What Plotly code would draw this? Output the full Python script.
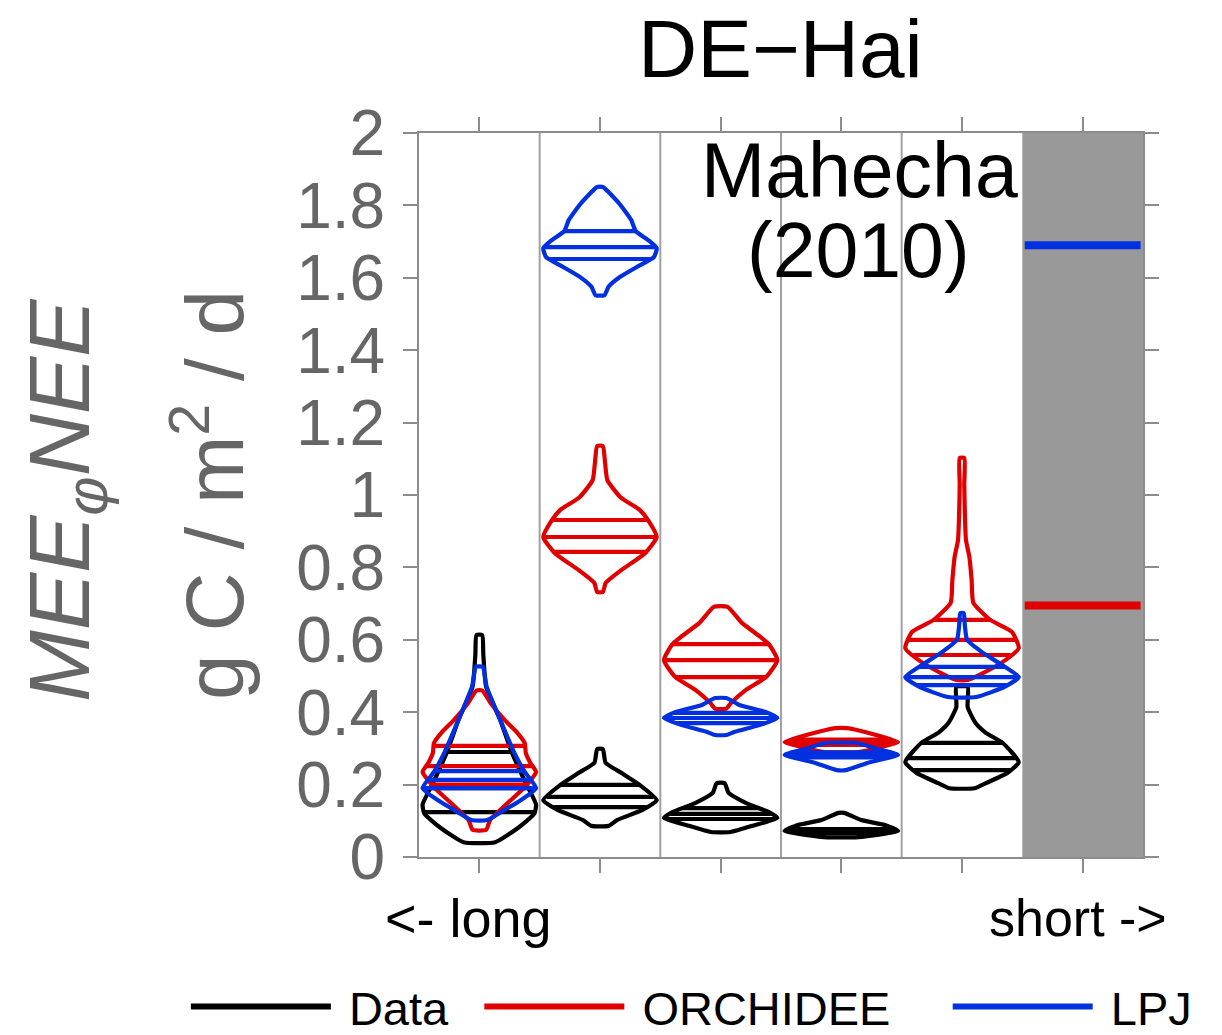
import numpy as np
import plotly.graph_objects as go

# ---------------- data ----------------
positions = [1, 2, 3, 4, 5]          # time-scale bins, long -> short
short_position = 6                   # shaded bin

# Data (observations): density profiles (value, relative density) per bin
data_prof_y = [
    [0.041, 0.08, 0.12, 0.145, 0.21, 0.29, 0.378, 0.47, 0.56, 0.613],
    [0.086, 0.102, 0.13, 0.157, 0.199, 0.232, 0.26, 0.298],
    [0.069, 0.088, 0.108, 0.124, 0.149, 0.177, 0.204],
    [0.055, 0.072, 0.088, 0.102, 0.122],
    [0.19, 0.204, 0.232, 0.262, 0.315, 0.343, 0.37, 0.414, 0.47],
]
data_prof_d = [
    [0.28, 0.68, 0.97, 1.0, 0.8, 0.57, 0.37, 0.12, 0.07, 0.05],
    [0.15, 0.3, 0.75, 1.0, 0.7, 0.38, 0.1, 0.05],
    [0.17, 0.6, 1.0, 0.85, 0.45, 0.14, 0.07],
    [0.3, 1.0, 0.78, 0.35, 0.05],
    [0.22, 0.42, 0.8, 1.0, 0.72, 0.42, 0.24, 0.1, 0.1],
]
data_quart = [
    [0.124, 0.19, 0.29],
    [0.138, 0.166, 0.199],
    [0.105, 0.119, 0.135],
    [0.066, 0.071, 0.077],
    [0.24, 0.273, 0.315],
]

# ORCHIDEE
orc_prof_y = [
    [0.075, 0.102, 0.149, 0.193, 0.235, 0.26, 0.287, 0.315, 0.343, 0.378, 0.425, 0.46],
    [0.732, 0.757, 0.793, 0.84, 0.884, 0.93, 0.959, 0.994, 1.041, 1.088, 1.135],
    [0.41, 0.425, 0.461, 0.497, 0.544, 0.588, 0.608, 0.646, 0.691],
    [0.29, 0.304, 0.318, 0.342, 0.356],
    [0.489, 0.508, 0.539, 0.577, 0.622, 0.655, 0.702, 0.765, 0.829, 0.876, 0.95, 1.03, 1.102],
]
orc_prof_d = [
    [0.12, 0.19, 0.5, 0.8, 1.0, 0.9, 0.82, 0.8, 0.67, 0.45, 0.2, 0.05],
    [0.05, 0.1, 0.38, 0.8, 1.0, 0.85, 0.7, 0.36, 0.13, 0.09, 0.05],
    [0.1, 0.18, 0.44, 0.8, 1.0, 0.85, 0.7, 0.38, 0.12],
    [0.3, 0.7, 1.0, 0.5, 0.1],
    [0.1, 0.37, 0.72, 1.0, 0.88, 0.5, 0.2, 0.17, 0.13, 0.07, 0.05, 0.04, 0.04],
]
orc_quart = [
    [0.2, 0.251, 0.307],
    [0.843, 0.884, 0.931],
    [0.497, 0.544, 0.588],
    [0.31, 0.317, 0.324],
    [0.558, 0.6, 0.655],
]

# LPJ
lpj_prof_y = [
    [0.102, 0.124, 0.157, 0.19, 0.235, 0.287, 0.378, 0.47, 0.525],
    [1.552, 1.575, 1.602, 1.63, 1.657, 1.682, 1.704, 1.729, 1.76, 1.807, 1.851],
    [0.337, 0.346, 0.365, 0.384, 0.401, 0.42, 0.439],
    [0.24, 0.262, 0.282, 0.3, 0.315],
    [0.442, 0.47, 0.497, 0.536, 0.564, 0.6, 0.64, 0.674],
]
lpj_prof_d = [
    [0.14, 0.38, 0.73, 1.0, 0.8, 0.62, 0.37, 0.13, 0.06],
    [0.08, 0.15, 0.35, 0.65, 0.95, 1.0, 0.85, 0.63, 0.55, 0.33, 0.05],
    [0.1, 0.25, 0.7, 1.0, 0.78, 0.33, 0.1],
    [0.08, 0.5, 1.0, 0.6, 0.28],
    [0.25, 0.75, 1.0, 0.65, 0.37, 0.09, 0.05, 0.03],
]
lpj_quart = [
    [0.19, 0.213, 0.237],
    [1.652, 1.685, 1.729],
    [0.37, 0.384, 0.398],
    [0.275, 0.282, 0.289],
    [0.475, 0.497, 0.525],
]

# values for the shaded "short" bin
orc_short = 0.695
lpj_short = 1.69

series_names = ["Data", "ORCHIDEE", "LPJ"]
y_ticks = [0, 0.2, 0.4, 0.6, 0.8, 1.0, 1.2, 1.4, 1.6, 1.8, 2.0]
y_ticktext = ["0", "0.2", "0.4", "0.6", "0.8", "1", "1.2", "1.4", "1.6", "1.8", "2"]

# ---------------- styling ----------------
BLACK = "#000000"
RED = "#e00000"
BLUE = "#0030e0"
AXGRAY = "#8c8c8c"
TXTGRAY = "#666666"
HALF = 0.47
FONT = "Liberation Sans, Arial, sans-serif"
NB = "\u00a0"


def violin_path(pos, ys, ds, quart):
    ys = np.asarray(ys, float)
    ds = np.asarray(ds, float) * HALF
    xs = list(pos + ds) + list((pos - ds)[::-1]) + [pos + ds[0]]
    yy = list(ys) + list(ys[::-1]) + [ys[0]]
    xs.append(None)
    yy.append(None)
    for q in quart:
        w = float(np.interp(q, ys, ds))
        xs += [pos - w, pos + w, None]
        yy += [q, q, None]
    return xs, yy


fig = go.Figure()

for name, color, py, pd_, pq in [
    ("Data", BLACK, data_prof_y, data_prof_d, data_quart),
    ("ORCHIDEE", RED, orc_prof_y, orc_prof_d, orc_quart),
    ("LPJ", BLUE, lpj_prof_y, lpj_prof_d, lpj_quart),
]:
    X, Y = [], []
    for pos, ys, ds, q in zip(positions, py, pd_, pq):
        x, y = violin_path(pos, ys, ds, q)
        X += x
        Y += y
    fig.add_trace(go.Scatter(x=X, y=Y, mode="lines",
                             line=dict(color=color, width=4.2, shape="spline", smoothing=0.5),
                             showlegend=False, hoverinfo="skip"))

for val, color in [(orc_short, RED), (lpj_short, BLUE)]:
    fig.add_trace(go.Scatter(x=[short_position - 0.48, short_position + 0.48], y=[val, val],
                             mode="lines", line=dict(color=color, width=8),
                             showlegend=False, hoverinfo="skip"))

# legend entries
legend_labels = [NB + "Data" + NB * 2, NB + "ORCHIDEE" + NB * 4, NB + "LPJ"]
for lab, color in zip(legend_labels, [BLACK, RED, BLUE]):
    fig.add_trace(go.Scatter(x=[None], y=[None], mode="lines", name=lab,
                             line=dict(color=color, width=6)))

# shaded bin and separators
fig.add_shape(type="rect", x0=5.5, x1=6.5, y0=0, y1=2, xref="x", yref="y",
              fillcolor="#999999", line=dict(width=0), layer="below")
for xv in [1.5, 2.5, 3.5, 4.5]:
    fig.add_shape(type="line", x0=xv, x1=xv, y0=0, y1=2, xref="x", yref="y",
                  line=dict(color="#a0a0a0", width=2), layer="below")

fig.update_layout(
    width=1222, height=1035,
    margin=dict(l=419, r=79, t=133, b=178, autoexpand=False),
    paper_bgcolor="white", plot_bgcolor="white",
    font=dict(family=FONT),
    showlegend=True,
    legend=dict(orientation="h", x=-0.322, xanchor="left", y=-0.207, yanchor="middle",
                font=dict(size=47, color="#000000"), itemwidth=140,
                bgcolor="rgba(0,0,0,0)", traceorder="normal"),
    xaxis=dict(range=[0.5, 6.5], tickvals=[1, 2, 3, 4, 5, 6], showticklabels=False,
               ticks="outside", ticklen=14, tickwidth=2, tickcolor=AXGRAY,
               showline=True, linecolor=AXGRAY, linewidth=2, mirror="ticks",
               showgrid=False, zeroline=False, fixedrange=True),
    yaxis=dict(range=[0, 2], tickvals=y_ticks, ticktext=y_ticktext,
               ticks="outside", ticklen=14, tickwidth=2, tickcolor=AXGRAY,
               showline=True, linecolor=AXGRAY, linewidth=2, mirror="ticks",
               showgrid=False, zeroline=False, ticklabelstandoff=5,
               tickfont=dict(size=64, color=TXTGRAY, family=FONT)),
)

ann = [
    dict(text="DE\u2212Hai", x=(780 - 419) / 724, y=(857 - 48) / 724, font=dict(size=82, color="black")),
    dict(text="Mahecha", x=(859 - 419) / 724, y=(857 - 170) / 724, font=dict(size=77, color="black")),
    dict(text="(2010)", x=(858 - 419) / 724, y=(857 - 250) / 724, font=dict(size=77, color="black")),
    dict(text="<- long", x=(468 - 419) / 724, y=(857 - 918) / 724, font=dict(size=54, color="black")),
    dict(text="short ->", x=(1078 - 419) / 724, y=(857 - 918) / 724, font=dict(size=52, color="black")),
    dict(text="<i>MEE<sub>\u03c6</sub>NEE</i>", x=(66 - 419) / 724, y=(857 - 500) / 724,
         textangle=-90, font=dict(size=86, color=TXTGRAY)),
    dict(text="g C / m<sup>2</sup> / d", x=(208 - 419) / 724, y=(857 - 495) / 724,
         textangle=-90, font=dict(size=82, color=TXTGRAY)),
]
for a in ann:
    fig.add_annotation(xref="paper", yref="paper", showarrow=False,
                       xanchor="center", yanchor="middle", **a)

fig.write_html("out.html")
